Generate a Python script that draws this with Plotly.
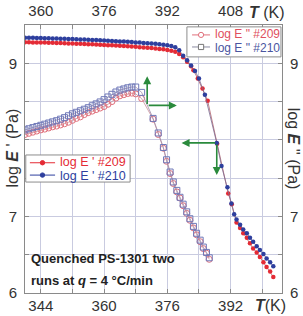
import plotly.graph_objects as go

# ---------------- data ----------------
# log E' (bottom T axis, left y axis)
t_e1_209 = [340,341,342,343,344,345,346,347,348,349,350,351,352,353,354,355,356,357,358,359,
            360,361,362,363,364,365,366,367,368,369,370,371,372,373,374,375,376,377,378,379,
            380,381,382,382.6,383.7,384.9,386.2,388.6,391.4,392.3,393.5,394.4,395.2,396.1,396.9,
            397.7,398.6,399.4,400.3,401.1,402.0,402.8]
e1_209 = [9.275,9.274,9.273,9.272,9.271,9.270,9.268,9.267,9.265,9.264,9.262,9.260,9.258,9.256,9.254,
          9.252,9.250,9.248,9.245,9.243,9.240,9.237,9.234,9.231,9.228,9.225,9.222,9.218,9.215,9.211,
          9.207,9.203,9.198,9.193,9.188,9.182,9.175,9.165,9.15,9.12,9.08,9.02,8.96,8.91,8.80,8.67,
          8.51,7.95,7.30,7.16,6.92,6.85,6.78,6.72,6.65,6.58,6.53,6.47,6.40,6.34,6.28,6.21]

t_e1_210 = [340,341,342,343,344,345,346,347,348,349,350,351,352,353,354,355,356,357,358,359,
            360,361,362,363,364,365,366,367,368,369,370,371,372,373,374,375,376,377,378,379,
            380,381,382,383,384,385.5,388.5,389.7,391.2,392.2,392.9,393.5,394.4,395.2,396.1,396.9,
            397.7,398.6,399.4,400.3,401.1,402.0,402.8]
e1_210 = [9.335,9.334,9.332,9.331,9.330,9.328,9.327,9.325,9.324,9.322,9.320,9.318,9.316,9.314,9.312,
          9.310,9.308,9.305,9.303,9.300,9.298,9.295,9.292,9.289,9.286,9.283,9.280,9.277,9.273,9.270,
          9.266,9.262,9.258,9.254,9.249,9.243,9.236,9.226,9.21,9.17,9.10,9.04,8.97,8.90,8.80,8.59,
          7.96,7.66,7.38,7.17,7.03,6.96,6.89,6.83,6.78,6.72,6.67,6.61,6.56,6.51,6.45,6.40,6.35]

# log E'' (top T axis, right y axis)
t_e2 = [356,357,358,359,360,361,362,363,364,365,366,367,368,369,370,371,372,373,374,375,376,377,
        378,379,380,381,382,383,384,385.5,388.4,389.7,391.0,391.8,392.7,393.5,394.4,395.2,396.0,
        396.9,397.7,398.6,399.4,400.3,401.1,401.9,402.6]
e2_209 = [8.07,8.085,8.10,8.115,8.13,8.14,8.155,8.17,8.18,8.195,8.21,8.23,8.255,8.28,8.30,8.33,8.355,
          8.375,8.395,8.415,8.435,8.465,8.50,8.545,8.575,8.59,8.605,8.61,8.60,8.54,8.27,8.07,7.89,
          7.72,7.56,7.43,7.32,7.24,7.14,7.04,6.95,6.85,6.76,6.67,6.58,6.52,6.44]
e2_210 = [8.13,8.145,8.16,8.175,8.19,8.205,8.22,8.235,8.25,8.27,8.29,8.315,8.34,8.36,8.38,8.40,8.42,
          8.445,8.47,8.495,8.525,8.56,8.595,8.625,8.65,8.665,8.68,8.69,8.69,8.62,8.28,8.09,7.90,
          7.74,7.58,7.45,7.34,7.25,7.16,7.06,6.97,6.87,6.78,6.69,6.60,6.53,6.46]

x_bottom_ticks = [344,352,360,368,376,384,392,400]
x_bottom_text = ["344","","360","","376","","392",""]
x_top_ticks = [360,368,376,384,392,400,408,416]
x_top_text = ["360","","376","","392","","408",""]
y_ticks = [6,6.5,7,7.5,8,8.5,9,9.5]
y_text = ["6","","7","","","","9",""]

legend_top_names = ['log E " #209', 'log E " #210']
legend_bottom_names = ["log E ' #209", "log E ' #210"]

RED = "#e42b35"
BLUE = "#2e3f9e"
RED_O = "#e0707c"
BLUE_O = "#6f78b8"
RED_TXT_O = "#e0505e"
BLUE_TXT_O = "#4a55a0"
GREEN = "#2a8a3c"
FONT = "Liberation Sans, Arial, sans-serif"

fig = go.Figure()

fig.add_trace(go.Scatter(x=t_e2, y=e2_209, xaxis="x2", yaxis="y2", mode="lines+markers",
                         line=dict(color="#c9909a", width=0.8), showlegend=False,
                         marker=dict(symbol="circle-open", size=6, color=RED_O, line=dict(width=1))))
fig.add_trace(go.Scatter(x=t_e2, y=e2_210, xaxis="x2", yaxis="y2", mode="lines+markers",
                         line=dict(color="#a08aa8", width=0.8), showlegend=False,
                         marker=dict(symbol="square-open", size=6, color=BLUE_O, line=dict(width=1))))
fig.add_trace(go.Scatter(x=t_e1_209, y=e1_209, mode="lines+markers", showlegend=False,
                         line=dict(color="#b0606a", width=0.8),
                         marker=dict(symbol="circle", size=4.5, color=RED)))
fig.add_trace(go.Scatter(x=t_e1_210, y=e1_210, mode="lines+markers", showlegend=False,
                         line=dict(color="#7a6a90", width=0.8),
                         marker=dict(symbol="circle", size=4.5, color=BLUE)))

# ---- hand-made compact legends (boxes + keys as shapes, texts as annotations) ----
shapes = [
    dict(type="rect", xref="paper", yref="paper", x0=0.630, x1=0.996, y0=0.881, y1=0.993,
         fillcolor="white", line=dict(color="#8c8c8c", width=1), layer="above"),
    dict(type="rect", xref="paper", yref="paper", x0=0.003, x1=0.409, y0=0.414, y1=0.515,
         fillcolor="white", line=dict(color="#8c8c8c", width=1), layer="above"),
]

def key(x0, x1, y, line_color, kind, mcolor, fill, r):
    shapes.append(dict(type="line", xref="paper", yref="paper", x0=x0, x1=x1, y0=y, y1=y,
                       line=dict(color=line_color, width=1), layer="above"))
    xc = (x0 + x1) / 2
    shapes.append(dict(type=kind, xref="paper", yref="paper", xsizemode="pixel", ysizemode="pixel",
                       xanchor=xc, yanchor=y, x0=-r, x1=r, y0=-r, y1=r,
                       fillcolor=fill, line=dict(color=mcolor, width=1), layer="above"))

key(0.650, 0.720, 0.963, RED_O, "circle", RED_O, "white", 2.6)
key(0.650, 0.720, 0.918, "#8a8aa0", "rect", "#777", "white", 2.6)
key(0.019, 0.117, 0.486, RED, "circle", RED, RED, 2.2)
key(0.019, 0.117, 0.440, BLUE, "circle", BLUE, BLUE, 2.2)

axis_common = dict(linecolor="#8a8a8a", linewidth=1, mirror=False, zeroline=False,
                   tickfont=dict(size=15, color="#333", family=FONT), automargin=False,
                   ticks="inside", ticklen=4, tickcolor="#8a8a8a")

fig.update_layout(
    width=303, height=316,
    margin=dict(l=25, r=21, t=25, b=23, autoexpand=False),
    paper_bgcolor="white", plot_bgcolor="white",
    font=dict(family=FONT, color="#333"),
    showlegend=False,
    xaxis=dict(range=[340, 405], tickmode="array", tickvals=x_bottom_ticks, ticktext=x_bottom_text,
               showgrid=True, gridcolor="#c9cbe0", gridwidth=1, ticklabelstandoff=-1, **axis_common),
    xaxis2=dict(range=[356, 421], overlaying="x", side="top", tickmode="array",
                tickvals=x_top_ticks, ticktext=x_top_text, showgrid=False, ticklabelstandoff=2,
                **axis_common),
    yaxis=dict(range=[6, 9.5], tickmode="array", tickvals=y_ticks, ticktext=y_text,
               showgrid=True, gridcolor="#c9cbe0", gridwidth=1, ticklabelstandoff=4, **axis_common),
    yaxis2=dict(range=[6, 9.5], overlaying="y", side="right", tickmode="array",
                tickvals=y_ticks, ticktext=y_text, showgrid=False, ticklabelstandoff=4, **axis_common),
    shapes=shapes,
)

ann = []
# legend texts
ann.append(dict(text=legend_top_names[0], xref="paper", yref="paper", x=0.732, y=0.965,
                xanchor="left", yanchor="middle", showarrow=False,
                font=dict(size=12, color=RED_TXT_O, family=FONT)))
ann.append(dict(text=legend_top_names[1], xref="paper", yref="paper", x=0.732, y=0.916,
                xanchor="left", yanchor="middle", showarrow=False,
                font=dict(size=12, color=BLUE_TXT_O, family=FONT)))
ann.append(dict(text=legend_bottom_names[0], xref="paper", yref="paper", x=0.130, y=0.488,
                xanchor="left", yanchor="middle", showarrow=False,
                font=dict(size=12.5, color=RED, family=FONT)))
ann.append(dict(text=legend_bottom_names[1], xref="paper", yref="paper", x=0.130, y=0.438,
                xanchor="left", yanchor="middle", showarrow=False,
                font=dict(size=12.5, color=BLUE, family=FONT)))
# axis titles
ann.append(dict(text="log <b><i>E</i></b> ' (Pa)", xref="paper", yref="paper", x=-0.05, y=0.54,
                xanchor="center", yanchor="middle",
                textangle=-90, showarrow=False, font=dict(size=16, color="#333", family=FONT)))
ann.append(dict(text="log <b><i>E</i></b> '' (Pa)", xref="paper", yref="paper", x=1.045, y=0.54,
                xanchor="center", yanchor="middle",
                textangle=90, showarrow=False, font=dict(size=16, color="#333", family=FONT)))
ann.append(dict(text="<b><i>T</i></b> (K)", xref="paper", yref="paper", x=0.94, y=1.048,
                xanchor="center", yanchor="middle",
                showarrow=False, font=dict(size=16, color="#333", family=FONT)))
ann.append(dict(text="<b><i>T</i></b>(K)", xref="paper", yref="paper", x=0.955, y=-0.045,
                xanchor="center", yanchor="middle",
                showarrow=False, font=dict(size=16, color="#333", family=FONT)))
# note text
ann.append(dict(text="<b>Quenched PS-1301 two</b>", xref="paper", yref="paper", x=0.015, y=0.127,
                xanchor="left", yanchor="middle", showarrow=False,
                font=dict(size=13, color="#222", family=FONT)))
ann.append(dict(text="<b>runs at <i>q</i> = 4 °C/min</b>", xref="paper", yref="paper", x=0.015, y=0.048,
                xanchor="left", yanchor="middle", showarrow=False,
                font=dict(size=13, color="#222", family=FONT)))

# green arrows (E'' -> top/right axes)
c2x, c2y = 386.9, 8.45
ann.append(dict(x=c2x, y=8.83, ax=c2x, ay=c2y, xref="x2", yref="y2", axref="x2", ayref="y2",
                showarrow=True, arrowhead=2, arrowsize=1, arrowwidth=1.6, arrowcolor=GREEN, text=""))
ann.append(dict(x=394.4, y=c2y, ax=c2x, ay=c2y, xref="x2", yref="y2", axref="x2", ayref="y2",
                showarrow=True, arrowhead=2, arrowsize=1, arrowwidth=1.6, arrowcolor=GREEN, text=""))
# green arrows (E' -> bottom/left axes), corner at an E' data point
i = t_e1_210.index(388.5)
c1x, c1y = t_e1_210[i], e1_210[i]
ann.append(dict(x=379.6, y=c1y, ax=c1x, ay=c1y, xref="x", yref="y", axref="x", ayref="y",
                showarrow=True, arrowhead=2, arrowsize=1, arrowwidth=1.6, arrowcolor=GREEN, text=""))
ann.append(dict(x=c1x, y=7.54, ax=c1x, ay=c1y, xref="x", yref="y", axref="x", ayref="y",
                showarrow=True, arrowhead=2, arrowsize=1, arrowwidth=1.6, arrowcolor=GREEN, text=""))
fig.update_layout(annotations=ann)

fig.write_html("out.html")
